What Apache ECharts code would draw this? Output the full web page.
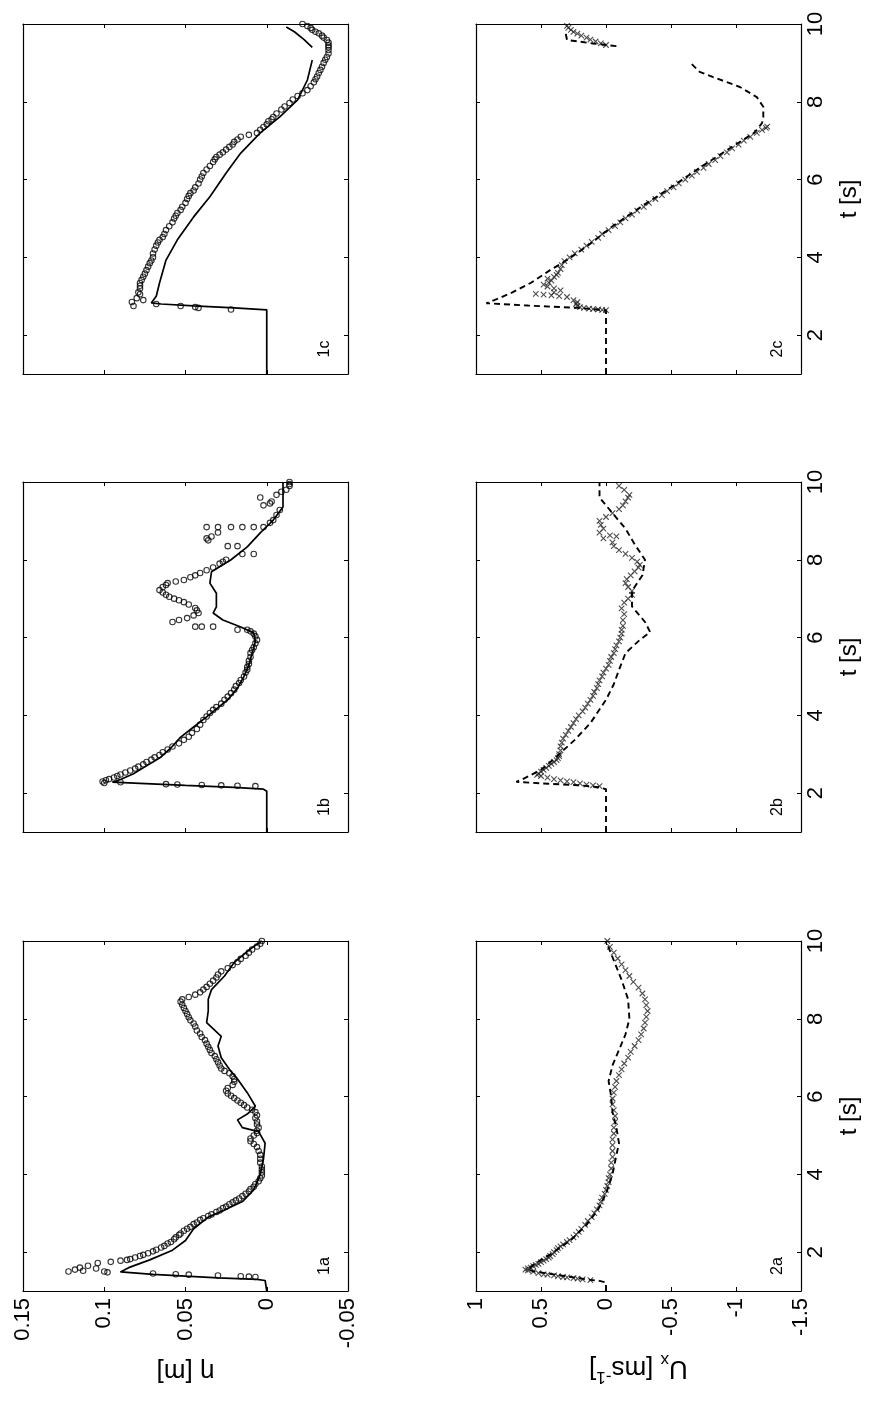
<!DOCTYPE html>
<html><head><meta charset="utf-8">
<script src="https://cdn.jsdelivr.net/npm/echarts@6/dist/echarts.min.js"></script>
<style>html,body{margin:0;padding:0;background:#fff}#c{width:873px;height:1404px}</style>
</head><body><div id="c"></div>
<script>
// ---------- tick labels ----------
const tTicks = [2, 4, 6, 8, 10];
const etaTicks = [-0.05, 0, 0.05, 0.1, 0.15];
const uTicks = [-1.5, -1, -0.5, 0, 0.5, 1];
const panelNames = ['1a', '1b', '1c', '2a', '2b', '2c'];

// ---------- data: [t (s), value] ----------
// 1a : surface elevation eta [m]
const sim1a = [[1.0,0],[1.27,0.001],[1.3,0.006],[1.34,0.03],[1.38,0.05],[1.43,0.07],[1.49,0.09],[1.6,0.085],[1.8,0.072],[2.05,0.058],[2.3,0.05],[2.6,0.045],[2.9,0.036],[3.1,0.025],[3.3,0.015],[3.6,0.008],[4.0,0.004],[4.4,0.002],[4.8,0.001],[5.1,0.005],[5.2,0.015],[5.4,0.018],[5.55,0.012],[5.75,0.007],[6.1,0.012],[6.45,0.018],[6.7,0.023],[7.0,0.028],[7.3,0.03],[7.55,0.028],[7.9,0.037],[8.2,0.036],[8.5,0.036],[8.75,0.034],[9.1,0.026],[9.45,0.02],[9.8,0.01],[10,0.003]];
const obs1a = [[1.36,0.007],[1.37,0.011],[1.38,0.016],[1.4,0.03],[1.42,0.048],[1.43,0.056],[1.45,0.07],[1.5,0.122],[1.55,0.118],[1.52,0.113],[1.6,0.115],[1.65,0.11],[1.58,0.105],[1.5,0.1],[1.48,0.098],[1.72,0.104],[1.75,0.096],[1.78,0.09],[1.8,0.086],
 [1.82,0.084],[1.86,0.081],[1.9,0.078],[1.93,0.076],[1.97,0.073],[2.02,0.07],[2.06,0.068],[2.12,0.065],[2.16,0.063],[2.22,0.061],[2.26,0.059],[2.33,0.057],[2.38,0.056],[2.44,0.054],[2.48,0.053],[2.55,0.051],[2.6,0.049],[2.65,0.047],[2.72,0.045],[2.76,0.043],[2.83,0.041],[2.87,0.039],[2.93,0.036],[2.97,0.034],[3.03,0.031],[3.07,0.029],[3.13,0.027],[3.17,0.025],[3.23,0.023],[3.28,0.021],[3.33,0.019],[3.38,0.017],[3.44,0.015],[3.5,0.013],[3.56,0.011],[3.62,0.01],[3.68,0.008],[3.75,0.007],[3.82,0.005],[3.9,0.004],[3.97,0.003],
 [4.05,0.003],[4.12,0.003],[4.2,0.003],[4.3,0.004],[4.4,0.004],[4.5,0.004],[4.6,0.005],[4.7,0.006],[4.78,0.008],[4.85,0.01],[4.92,0.01],[5.0,0.008],[5.06,0.006],[5.12,0.006],[5.2,0.005],[5.28,0.006],[5.36,0.006],[5.45,0.007],[5.52,0.006],[5.6,0.007],[5.66,0.009],[5.72,0.012],[5.78,0.014],[5.84,0.016],[5.9,0.018],[5.96,0.02],[6.02,0.022],[6.08,0.024],[6.15,0.025],[6.22,0.024],[6.3,0.021],[6.38,0.02],[6.45,0.02],[6.52,0.021],[6.6,0.023],[6.66,0.026],[6.72,0.028],[6.8,0.029],[6.88,0.03],[6.96,0.031],[7.04,0.032],[7.12,0.034],[7.2,0.035],[7.28,0.036],[7.36,0.037],[7.45,0.038],[7.53,0.04],[7.62,0.041],[7.7,0.043],[7.8,0.044],[7.88,0.045],[7.96,0.047],[8.04,0.048],[8.12,0.049],[8.2,0.05],[8.28,0.051],[8.36,0.052],[8.44,0.053],[8.5,0.052],[8.56,0.048],[8.62,0.044],[8.68,0.041],[8.75,0.039],[8.82,0.037],[8.9,0.035],[8.98,0.033],[9.06,0.031],[9.14,0.03],[9.22,0.028],[9.3,0.024],[9.38,0.021],[9.46,0.018],[9.54,0.016],[9.62,0.013],[9.7,0.011],[9.78,0.009],[9.86,0.006],[9.93,0.004],[10,0.003]];
// 1b
const sim1b = [[1,0],[2.05,0],[2.1,0.002],[2.15,0.02],[2.2,0.05],[2.25,0.078],[2.28,0.095],[2.35,0.09],[2.5,0.082],[2.7,0.074],[2.9,0.066],[3.16,0.059],[3.44,0.053],[3.7,0.045],[3.96,0.037],[4.2,0.03],[4.4,0.024],[4.7,0.018],[5.0,0.014],[5.3,0.011],[5.6,0.009],[5.9,0.007],[6.12,0.008],[6.27,0.016],[6.45,0.027],[6.63,0.033],[6.79,0.031],[7.14,0.031],[7.4,0.035],[7.69,0.034],[8.0,0.022],[8.33,0.012],[8.69,0.004],[9.02,-0.004],[9.36,-0.01],[10,-0.01]];
const obs1b = [[2.18,0.007],[2.19,0.018],[2.2,0.028],[2.21,0.04],[2.22,0.055],[2.23,0.062],
 [2.26,0.1],[2.3,0.101],[2.33,0.099],[2.36,0.097],[2.4,0.094],[2.28,0.09],[2.44,0.092],[2.48,0.09],[2.53,0.087],[2.58,0.084],[2.63,0.081],[2.68,0.079],[2.74,0.076],[2.8,0.074],[2.86,0.071],[2.92,0.069],[2.98,0.066],[3.05,0.064],[3.12,0.061],[3.2,0.058],[3.28,0.054],[3.37,0.051],[3.45,0.048],[3.55,0.046],[3.65,0.043],[3.76,0.041],[3.88,0.039],[3.97,0.037],[4.06,0.035],[4.14,0.033],[4.21,0.031],[4.3,0.028],[4.4,0.026],[4.48,0.024],[4.57,0.022],[4.66,0.02],[4.75,0.019],[4.83,0.017],[4.91,0.016],[5.0,0.014],[5.1,0.013],[5.17,0.012],[5.24,0.012],[5.32,0.011],[5.4,0.011],[5.5,0.01],[5.6,0.01],[5.68,0.009],[5.75,0.008],[5.85,0.007],[5.94,0.006],[6.03,0.007],[6.1,0.008],[6.16,0.01],
 [6.2,0.012],[6.2,0.018],[6.28,0.033],[6.28,0.04],[6.28,0.044],[6.4,0.058],[6.45,0.054],[6.5,0.049],[6.57,0.045],[6.63,0.042],[6.7,0.043],[6.76,0.044],[6.85,0.048],[6.91,0.051],[6.96,0.054],[7.0,0.057],[7.05,0.06],[7.1,0.062],[7.16,0.064],[7.22,0.066],[7.3,0.064],[7.35,0.062],[7.4,0.061],[7.44,0.056],[7.48,0.051],[7.55,0.047],[7.6,0.044],[7.66,0.041],[7.73,0.037],[7.8,0.033],[7.9,0.029],[7.95,0.027],[8.0,0.025],[8.15,0.015],[8.15,0.008],[8.35,0.024],[8.35,0.018],[8.5,0.036],[8.55,0.037],[8.6,0.034],[8.7,0.03],[8.84,0.037],[8.84,0.03],[8.84,0.022],[8.84,0.015],[8.84,0.008],[8.84,0.002],[8.95,-0.002],[9.02,-0.004],[9.15,-0.006],[9.28,-0.008],[9.4,0.002],[9.45,-0.002],[9.5,-0.003],[9.6,0.004],[9.67,-0.006],[9.75,-0.009],[9.8,-0.012],[9.9,-0.014],[9.95,-0.014],[10,-0.014]];
// 1c
const sim1c = [[1,0],[2.65,0],[2.7,0.02],[2.75,0.045],[2.8,0.065],[2.83,0.071],[3.0,0.068],[3.34,0.066],[3.93,0.062],[4.45,0.055],[5.04,0.045],[5.56,0.035],[6.17,0.025],[6.68,0.016],[7.2,0.004],[7.61,-0.008],[8.05,-0.019],[8.56,-0.025],[9.07,-0.028]];
const sim1cEnd = [[9.4,-0.028],[9.6,-0.023],[9.8,-0.017],[9.92,-0.012]];
const obs1c = [[2.66,0.022],[2.7,0.042],[2.72,0.044],[2.75,0.053],[2.8,0.068],[2.75,0.082],[2.85,0.083],[2.95,0.08],[3.05,0.078],[2.9,0.076],
 [3.1,0.079],[3.2,0.078],[3.27,0.078],[3.34,0.078],[3.42,0.077],[3.5,0.076],[3.58,0.075],[3.67,0.074],[3.76,0.073],[3.85,0.072],[3.92,0.071],[4.0,0.07],[4.1,0.07],[4.2,0.069],[4.3,0.068],[4.38,0.067],[4.45,0.066],[4.52,0.064],[4.6,0.063],[4.7,0.062],[4.8,0.06],[4.9,0.058],[5.0,0.057],[5.07,0.056],[5.14,0.055],[5.22,0.053],[5.3,0.052],[5.4,0.05],[5.5,0.049],[5.58,0.048],[5.65,0.047],[5.72,0.045],[5.8,0.044],[5.9,0.042],[6.0,0.041],[6.08,0.04],[6.17,0.039],[6.26,0.037],[6.35,0.035],[6.45,0.033],[6.52,0.032],[6.58,0.031],[6.64,0.029],[6.7,0.027],[6.77,0.025],[6.84,0.023],[6.9,0.021],[6.97,0.02],[7.03,0.018],[7.1,0.016],[7.15,0.011],[7.2,0.006],[7.28,0.004],[7.35,0.002],[7.42,0.0],[7.5,-0.001],[7.55,-0.003],[7.61,-0.004],[7.7,-0.006],[7.8,-0.009],[7.88,-0.011],[7.97,-0.014],[8.06,-0.016],[8.15,-0.019],[8.22,-0.022],[8.3,-0.025],[8.4,-0.027],[8.5,-0.029],[8.58,-0.03],[8.65,-0.031],[8.74,-0.032],[8.82,-0.033],[8.9,-0.034],[9.0,-0.035],[9.08,-0.036],[9.15,-0.037],[9.24,-0.038],[9.33,-0.038],[9.4,-0.038],[9.45,-0.038],[9.52,-0.038],[9.59,-0.037],[9.65,-0.035],[9.7,-0.034],[9.76,-0.032],[9.8,-0.03],[9.85,-0.028],[9.9,-0.027],[9.95,-0.025],[10,-0.022]];
// 2a : velocity U_x [m/s]
const sim2a = [[1,0],[1.22,0],[1.26,0.05],[1.3,0.15],[1.4,0.35],[1.5,0.55],[1.55,0.6],[1.7,0.55],[1.98,0.41],[2.31,0.27],[2.7,0.15],[3.1,0.06],[3.5,0.0],[4.0,-0.05],[4.5,-0.08],[4.8,-0.1],[5.2,-0.08],[5.6,-0.05],[6.0,-0.04],[6.4,-0.02],[6.8,-0.05],[7.2,-0.1],[7.6,-0.15],[8.0,-0.18],[8.5,-0.17],[9.0,-0.12],[9.5,-0.06],[10,0.0]];
const obs2a = [[1.28,0.12],[1.3,0.18],[1.32,0.22],[1.33,0.25],[1.35,0.3],[1.36,0.33],[1.38,0.37],[1.4,0.4],[1.42,0.45],[1.43,0.48],[1.46,0.52],[1.5,0.56],[1.53,0.6],[1.55,0.62],[1.58,0.6],[1.6,0.58],[1.64,0.56],[1.67,0.54],[1.7,0.52],[1.74,0.5],[1.78,0.48],[1.82,0.46],[1.86,0.44],[1.9,0.43],[1.95,0.41],[2.0,0.4],[2.05,0.38],[2.1,0.37],[2.15,0.35],[2.2,0.33],[2.26,0.3],[2.31,0.28],[2.38,0.25],[2.45,0.23],[2.52,0.21],[2.6,0.19],[2.7,0.16],[2.8,0.14],[2.9,0.11],[3.0,0.09],[3.1,0.07],[3.2,0.05],[3.3,0.04],[3.4,0.03],[3.5,0.01],[3.6,0.0],[3.7,-0.01],[3.8,-0.02],[3.9,-0.02],[4.0,-0.03],[4.15,-0.04],[4.3,-0.04],[4.45,-0.05],[4.6,-0.05],[4.75,-0.05],[4.9,-0.05],[5.05,-0.06],[5.2,-0.06],[5.35,-0.07],[5.5,-0.07],[5.65,-0.06],[5.8,-0.05],[5.95,-0.05],[6.1,-0.06],[6.25,-0.07],[6.4,-0.08],[6.55,-0.1],[6.7,-0.12],[6.85,-0.14],[7.0,-0.17],[7.15,-0.19],[7.3,-0.22],[7.45,-0.25],[7.6,-0.27],[7.75,-0.29],[7.9,-0.3],[8.05,-0.31],[8.2,-0.32],[8.35,-0.31],[8.5,-0.3],[8.65,-0.28],[8.8,-0.25],[8.95,-0.21],[9.1,-0.18],[9.25,-0.15],[9.4,-0.12],[9.55,-0.09],[9.7,-0.06],[9.85,-0.03],[10,-0.01]];
// 2b
const sim2b = [[1,0],[2.1,0],[2.15,0.05],[2.2,0.2],[2.25,0.5],[2.29,0.69],[2.36,0.64],[2.6,0.5],[2.85,0.41],[3.37,0.24],[3.8,0.12],[4.4,0.0],[4.8,-0.06],[5.17,-0.1],[5.6,-0.15],[5.94,-0.26],[6.14,-0.34],[6.4,-0.3],[6.8,-0.2],[7.2,-0.2],[7.6,-0.28],[8.0,-0.3],[8.4,-0.22],[8.8,-0.15],[9.2,-0.05],[9.6,0.05],[10,0.05]];
const obs2b = [[2.18,0.05],[2.2,0.1],[2.22,0.15],[2.25,0.2],[2.28,0.25],[2.3,0.3],[2.33,0.35],[2.36,0.4],[2.4,0.45],[2.44,0.5],[2.47,0.53],[2.5,0.52],[2.55,0.5],[2.6,0.48],[2.65,0.46],[2.7,0.44],[2.75,0.42],[2.8,0.4],[2.85,0.38],[2.9,0.37],[2.95,0.36],[3.0,0.36],[3.1,0.35],[3.2,0.35],[3.3,0.34],[3.4,0.33],[3.5,0.31],[3.6,0.29],[3.7,0.27],[3.8,0.25],[3.9,0.23],[4.0,0.21],[4.1,0.18],[4.2,0.16],[4.3,0.14],[4.4,0.12],[4.5,0.1],[4.6,0.09],[4.7,0.07],[4.8,0.06],[4.9,0.05],[5.0,0.03],[5.1,0.02],[5.2,0.0],[5.3,-0.02],[5.4,-0.03],[5.5,-0.04],[5.6,-0.06],[5.7,-0.07],[5.8,-0.08],[5.9,-0.1],[6.0,-0.11],[6.1,-0.12],[6.2,-0.12],[6.3,-0.13],[6.45,-0.13],[6.6,-0.14],[6.75,-0.12],[6.9,-0.14],[7.0,-0.17],[7.1,-0.2],[7.2,-0.2],[7.3,-0.17],[7.4,-0.15],[7.5,-0.16],[7.6,-0.19],[7.7,-0.22],[7.8,-0.25],[7.87,-0.26],[7.95,-0.24],[8.05,-0.2],[8.15,-0.15],[8.25,-0.1],[8.35,-0.06],[8.45,-0.05],[8.55,0.02],[8.6,-0.08],[8.63,-0.03],[8.7,0.05],[8.8,0.02],[8.9,0.04],[9.0,0.05],[9.1,0.0],[9.2,-0.05],[9.3,-0.1],[9.4,-0.13],[9.5,-0.15],[9.6,-0.17],[9.67,-0.18],[9.8,-0.14],[9.9,-0.1]];
// 2c
const sim2c = [[1,0],[2.64,0],[2.7,0.22],[2.76,0.6],[2.82,0.92],[2.95,0.82],[3.1,0.72],[3.34,0.58],[3.67,0.43],[3.93,0.3],[4.3,0.14],[4.8,-0.05],[5.3,-0.27],[5.8,-0.5],[6.3,-0.72],[6.8,-0.95],[7.2,-1.14],[7.45,-1.2],[7.6,-1.21],[7.87,-1.21],[8.12,-1.16],[8.38,-1.03],[8.64,-0.82],[8.77,-0.72],[9.0,-0.65]];
const sim2cEnd = [[9.43,-0.08],[9.5,0.1],[9.59,0.3],[9.76,0.31]];
const obs2c = [[2.64,0.0],[2.65,0.03],[2.66,0.06],[2.67,0.1],[2.68,0.13],[2.7,0.17],[2.72,0.2],[2.75,0.22],[2.8,0.23],[2.85,0.22],[2.9,0.25],[2.98,0.3],[3.0,0.36],[3.02,0.42],[3.04,0.48],[3.06,0.54],[3.1,0.4],[3.15,0.35],[3.2,0.4],[3.25,0.45],[3.3,0.48],[3.35,0.44],[3.4,0.42],[3.45,0.45],[3.5,0.4],[3.55,0.38],[3.6,0.37],[3.7,0.35],[3.8,0.34],[3.9,0.32],
 [4.0,0.28],[4.1,0.24],[4.2,0.19],[4.3,0.15],[4.4,0.11],[4.5,0.06],[4.6,0.03],[4.7,-0.02],[4.8,-0.07],[4.9,-0.11],[5.0,-0.15],[5.1,-0.2],[5.2,-0.24],[5.3,-0.29],[5.4,-0.33],[5.5,-0.38],[5.6,-0.43],[5.7,-0.47],[5.8,-0.52],[5.9,-0.56],[6.0,-0.61],[6.1,-0.66],[6.2,-0.7],[6.3,-0.75],[6.4,-0.79],[6.5,-0.84],[6.6,-0.88],[6.7,-0.93],[6.8,-0.97],[6.9,-1.02],[7.0,-1.06],[7.1,-1.11],[7.2,-1.16],[7.28,-1.2],[7.33,-1.23],[7.36,-1.24],
 [9.46,0.0],[9.5,0.04],[9.55,0.08],[9.6,0.12],[9.65,0.15],[9.7,0.19],[9.75,0.22],[9.8,0.25],[9.85,0.27],[9.9,0.29],[9.95,0.3]];

// ---------- layout ----------
const FONT = '"Liberation Sans", Arial, Helvetica, sans-serif';
const colLeft = [23, 476];
const rowTop = [941, 482, 24];   // a, b, c
const GW = 325, GH = 350;

const panels = [
  {col:0,row:0,sims:[sim1a],obs:obs1a},
  {col:0,row:1,sims:[sim1b],obs:obs1b},
  {col:0,row:2,sims:[sim1c,sim1cEnd],obs:obs1c},
  {col:1,row:0,sims:[sim2a],obs:obs2a},
  {col:1,row:1,sims:[sim2b],obs:obs2b},
  {col:1,row:2,sims:[sim2c,sim2cEnd],obs:obs2c}
];

const grid = [], xAxis = [], yAxis = [], series = [], graphic = [];
const lineAx = {show:true, onZero:false, lineStyle:{color:'#000', width:1.2}};
const noSplit = {show:false};

panels.forEach((p, i) => {
  const left = colLeft[p.col], top = rowTop[p.row];
  grid.push({left:left, top:top, width:GW, height:GH, show:false, containLabel:false});
  const isEta = p.col === 0;
  const vt = isEta ? etaTicks : uTicks;
  const vmin = vt[0], vmax = vt[vt.length-1];
  const showV = p.row === 0;
  const base = {type:'value', gridIndex:i, min:vmin, max:vmax, inverse:true,
    axisLine:lineAx, splitLine:noSplit,
    axisTick:{show:true, inside:true, length:4, lineStyle:{color:'#000', width:1}, customValues:vt}};
  const nameCfg = isEta ? {
      name:'η [m]', nameTextStyle:{fontFamily:FONT, fontSize:26, color:'#000'}, nameGap:67
    } : {
      name:'{m|U}{sub|x}{m| [ms}{sup|-1}{m|]}',
      nameTextStyle:{fontFamily:FONT, fontSize:26, color:'#000', rich:{
        m:{fontFamily:FONT, fontSize:26, lineHeight:34, verticalAlign:'middle', color:'#000'},
        sub:{fontFamily:FONT, fontSize:17, lineHeight:17, verticalAlign:'bottom', color:'#000'},
        sup:{fontFamily:FONT, fontSize:17, lineHeight:17, verticalAlign:'top', color:'#000'}}},
      nameGap:60
    };
  xAxis.push(Object.assign({}, base, {position:'bottom',
    axisLabel:{show:showV, rotate:90, margin:7, fontFamily:FONT, fontSize:22, color:'#000', customValues:vt}},
    showV ? Object.assign({nameLocation:'middle', nameRotate:180}, nameCfg) : {}));
  xAxis.push(Object.assign({}, base, {position:'top', axisLabel:{show:false}}));
  const showT = p.col === 1;
  const tb = {type:'value', gridIndex:i, min:1, max:10, axisLine:lineAx, splitLine:noSplit,
    axisTick:{show:true, inside:true, length:4, lineStyle:{color:'#000', width:1}, customValues:tTicks}};
  yAxis.push(Object.assign({}, tb, {position:'right',
    axisLabel:{show:showT, rotate:90, margin:4, fontFamily:FONT, fontSize:22, color:'#000', customValues:tTicks}},
    showT ? {name:'t [s]', nameLocation:'middle', nameRotate:90, nameGap:36,
             nameTextStyle:{fontFamily:FONT, fontSize:24, color:'#000'}} : {}));
  yAxis.push(Object.assign({}, tb, {position:'left', axisLabel:{show:false}}));

  const xi = 2*i, yi = 2*i;
  p.sims.forEach(s => series.push({type:'line', xAxisIndex:xi, yAxisIndex:yi,
    data:s.map(d => [d[1], d[0]]), showSymbol:false, symbol:'none', smooth:false, silent:true,
    lineStyle: isEta ? {color:'#000', width:1.7} : {color:'#000', width:1.9, type:[6,4]}, z:3}));
  series.push({type:'scatter', xAxisIndex:xi, yAxisIndex:yi, data:p.obs.map(d => [d[1], d[0]]),
    symbol: isEta ? 'circle' : 'path://M0,0L10,10M10,0L0,10',
    symbolSize: isEta ? 5.5 : 5.5,
    itemStyle: isEta ? {color:'rgba(0,0,0,0)', borderColor:'#000', borderWidth:1.1}
                     : {color:'rgba(0,0,0,0)', borderColor:'#222', borderWidth:1.1},
    silent:true, z:2});

  graphic.push({type:'text', x:left + GW - 23, y:top + GH - 25, rotation:Math.PI/2,
    style:{text:panelNames[i], font:'16px ' + FONT, fill:'#000', align:'center', verticalAlign:'middle'}});
});

const chart = echarts.init(document.getElementById('c'), null, {renderer:'canvas'});
chart.setOption({backgroundColor:'#fff', animation:false, grid, xAxis, yAxis, series, graphic});
</script></body></html>
